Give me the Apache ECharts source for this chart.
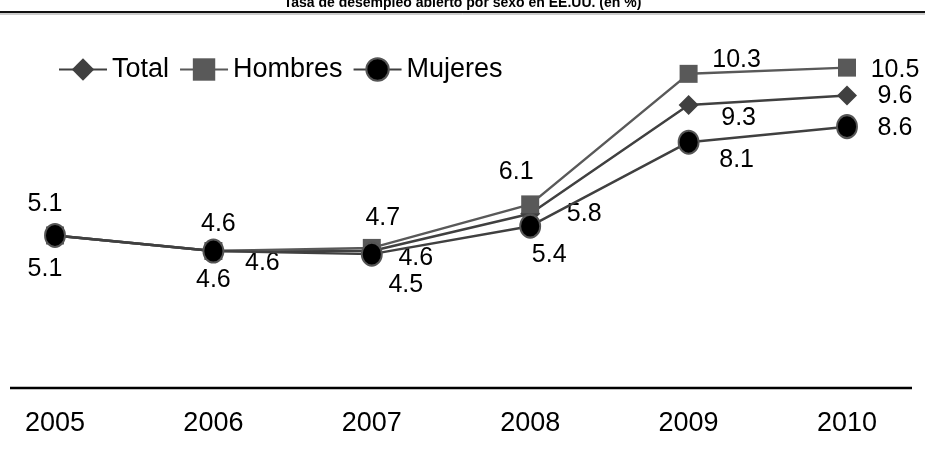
<!DOCTYPE html>
<html>
<head>
<meta charset="utf-8">
<script src="https://cdn.jsdelivr.net/npm/echarts@6/dist/echarts.min.js"></script>
<style>
  html, body { margin: 0; padding: 0; background: #fff; }
  #chart { width: 925px; height: 462px; }
</style>
</head>
<body>
<div id="chart"></div>
<script>
// data
const years = ['2005', '2006', '2007', '2008', '2009', '2010']
const total = [5.1, 4.6, 4.6, 5.8, 9.3, 9.6]
const hombres = [5.1, 4.6, 4.7, 6.1, 10.3, 10.5]
const mujeres = [5.1, 4.6, 4.5, 5.4, 8.1, 8.6]

// label placement (px from the marker centre), like the original layout
const totalLabelOffset = [null, [49, 12], [44, 7], [54, 0], [50, 13], [48, 1]]
const hombresLabelOffset = [[-10, -31], [5, -27], [11, -30], [-14, -32], [48, -14], [48, 2]]
const mujeresLabelOffset = [[-10, 34], [0, 29], [34, 31], [19, 29], [48, 18], [48, 1]]

const FONT = '"Liberation Sans", Arial, Helvetica, sans-serif'

function withLabels(values, offsets) {
  return values.map((v, i) => {
    const off = offsets[i]
    if (!off) {
      return { value: v, label: { show: false } }
    }
    return { value: v, label: { show: true, position: 'inside', offset: off } }
  })
}

const labelStyle = {
  show: true,
  color: '#000',
  fontFamily: FONT,
  fontSize: 25,
  textBorderWidth: 0,
  formatter: p => p.value.toFixed(1)
}

const chart = echarts.init(document.getElementById('chart'))
chart.setOption({
  animation: false,
  title: {
    text: 'Tasa de desempleo abierto por sexo en EE.UU. (en %)',
    left: 'center',
    top: -9,
    textStyle: { fontFamily: FONT, fontSize: 14, fontWeight: 'bold', color: '#000' }
  },
  graphic: [
    { type: 'line', shape: { x1: 0, y1: 12, x2: 925, y2: 12 }, style: { stroke: '#111', lineWidth: 2 } },
    { type: 'line', shape: { x1: 0, y1: 14, x2: 925, y2: 14 }, style: { stroke: '#999', lineWidth: 1 } },
    { type: 'line', shape: { x1: 10, y1: 388, x2: 912, y2: 388 }, style: { stroke: '#000', lineWidth: 2.5 } }
  ],
  legend: {
    left: 53,
    top: 51,
    itemWidth: 48,
    itemHeight: 28,
    itemGap: 10,
    textStyle: { fontFamily: FONT, fontSize: 27, color: '#000' },
    data: ['Total', 'Hombres', 'Mujeres']
  },
  grid: {
    left: 55,
    right: 78,
    top: 21,
    bottom: 68,
    containLabel: false
  },
  xAxis: {
    type: 'category',
    data: years,
    boundaryGap: false,
    axisLine: { show: false },
    axisTick: { show: false },
    axisLabel: {
      margin: 16,
      color: '#000',
      fontFamily: FONT,
      fontSize: 27
    }
  },
  yAxis: {
    type: 'value',
    min: 0,
    max: 12,
    show: false,
    splitLine: { show: false }
  },
  series: [
    {
      name: 'Total',
      type: 'line',
      data: withLabels(total, totalLabelOffset),
      symbol: 'diamond',
      symbolSize: 20,
      z: 2,
      itemStyle: { color: '#404040' },
      lineStyle: { color: '#404040', width: 2.5 },
      label: labelStyle
    },
    {
      name: 'Hombres',
      type: 'line',
      data: withLabels(hombres, hombresLabelOffset),
      symbol: 'rect',
      symbolSize: 18,
      z: 3,
      itemStyle: { color: '#595959' },
      lineStyle: { color: '#595959', width: 2.5 },
      label: labelStyle
    },
    {
      name: 'Mujeres',
      type: 'line',
      data: withLabels(mujeres, mujeresLabelOffset),
      symbol: 'circle',
      symbolSize: [20, 23],
      z: 4,
      itemStyle: { color: '#000', borderColor: '#555', borderWidth: 2 },
      lineStyle: { color: '#404040', width: 2.5 },
      label: labelStyle
    }
  ]
})
</script>
</body>
</html>
